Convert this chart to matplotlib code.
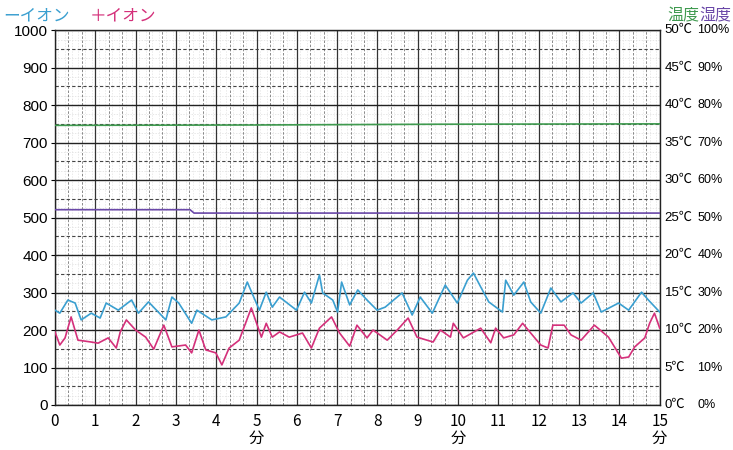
import matplotlib
matplotlib.use("Agg")
import matplotlib.pyplot as plt
import matplotlib.transforms as mtransforms

plt.rcParams['font.family'] = ['Noto Sans CJK JP', 'DejaVu Sans']

# ---- data ----
neg_t = [0.0, 0.12, 0.32, 0.50, 0.65, 0.90, 1.12, 1.27, 1.57, 1.90, 2.07, 2.32, 2.75, 2.90,
         3.07, 3.39, 3.52, 3.89, 4.24, 4.57, 4.77, 5.07, 5.24, 5.39, 5.57, 5.99, 6.19, 6.36,
         6.56, 6.64, 6.89, 7.01, 7.11, 7.31, 7.51, 7.74, 7.99, 8.19, 8.61, 8.86, 9.06, 9.36,
         9.68, 9.98, 10.23, 10.38, 10.56, 10.76, 11.10, 11.18, 11.38, 11.63, 11.80, 12.05,
         12.30, 12.55, 12.85, 13.05, 13.35, 13.55, 13.98, 14.23, 14.55, 14.72, 15.0]
neg_v = [253, 245, 280, 272, 227, 245, 232, 272, 253, 280, 245, 275, 227, 288,
         272, 218, 253, 227, 235, 272, 328, 253, 301, 261, 288, 253, 301, 272,
         347, 299, 280, 248, 328, 267, 307, 280, 253, 261, 299, 240, 288, 245,
         320, 272, 333, 352, 315, 275, 248, 333, 293, 328, 275, 245,
         312, 275, 299, 272, 299, 248, 272, 253, 301, 280, 248]

pos_t = [0.0, 0.12, 0.25, 0.40, 0.57, 0.90, 1.07, 1.32, 1.52, 1.62, 1.77, 2.00, 2.25, 2.45,
         2.70, 2.90, 3.24, 3.39, 3.57, 3.74, 3.99, 4.14, 4.32, 4.57, 4.87, 5.12, 5.24, 5.39,
         5.57, 5.81, 6.14, 6.36, 6.56, 6.86, 7.06, 7.31, 7.49, 7.74, 7.89, 8.24, 8.49, 8.76,
         8.98, 9.38, 9.56, 9.81, 9.88, 10.13, 10.56, 10.81, 10.93, 11.13, 11.38, 11.60, 11.80,
         12.05, 12.23, 12.35, 12.63, 12.80, 13.05, 13.38, 13.73, 14.05, 14.23, 14.38, 14.63,
         14.75, 14.87, 15.0]
pos_v = [195, 160, 179, 235, 173, 168, 165, 179, 152, 195, 227, 200, 181, 149,
         213, 155, 160, 139, 200, 147, 139, 107, 152, 173, 259, 181, 218, 181,
         195, 181, 192, 152, 205, 235, 192, 157, 213, 179, 200, 173, 200, 232,
         181, 168, 200, 181, 218, 179, 205, 166, 205, 179, 187, 218, 192,
         160, 152, 213, 213, 187, 173, 213, 181, 125, 128, 155, 179,
         218, 245, 205]

temp_t = [0.0, 5.0, 9.5, 15.0]
temp_c = [37.3, 37.35, 37.45, 37.5]      # deg C (right axis, 50C = 1000)

hum_t = [0.0, 3.35, 3.45, 15.0]
hum_p = [52.1, 52.1, 51.2, 51.2]          # % (right axis, 100% = 1000)

left_ticks = [0, 100, 200, 300, 400, 500, 600, 700, 800, 900, 1000]
x_ticks = list(range(16))
x_ticklabels = ['0', '1', '2', '3', '4', '5\n分', '6', '7', '8', '9', '10\n分',
                '11', '12', '13', '14', '15\n分']
temp_labels = ['0℃', '5℃', '10℃', '15℃', '20℃', '25℃', '30℃', '35℃', '40℃', '45℃', '50℃']
hum_labels = ['0%', '10%', '20%', '30%', '40%', '50%', '60%', '70%', '80%', '90%', '100%']

c_neg = '#3a9fd0'
c_pos = '#d4307a'
c_temp = '#3f9a4f'
c_hum = '#6a48a8'

num_font = ['Liberation Sans', 'Noto Sans CJK JP']

fig = plt.figure(figsize=(7.33, 4.5), dpi=100)
ax = fig.add_axes([0.075, 0.10, 0.825, 0.833])
ax.set_xlim(0, 15)
ax.set_ylim(0, 1000)

# grid
for k in range(0, 46):
    x = k / 3.0
    if k % 3 == 0:
        ax.axvline(x, color='#333333', lw=0.9, zorder=1)
    else:
        ax.axvline(x, color='#777777', lw=0.6, ls=(0, (3, 2)), zorder=1)
for k in range(0, 90):
    x = k / 6.0 + 1 / 12.0
    if x < 15:
        ax.axvline(x, color='#e2e2e2', lw=0.5, ls=(0, (2, 2)), zorder=0.5)
for y in range(0, 1001, 25):
    if y % 100 == 0:
        ax.axhline(y, color='#222222', lw=1.0, zorder=1)
    elif y % 50 == 0:
        ax.axhline(y, color='#444444', lw=0.8, ls=(0, (3, 2)), zorder=1)
    else:
        ax.axhline(y, color='#dddddd', lw=0.5, ls=(0, (2, 2)), zorder=0.5)

# series
ax.plot(temp_t, [v * 20 for v in temp_c], color=c_temp, lw=1.2, zorder=3)
ax.plot(hum_t, [v * 10 for v in hum_p], color=c_hum, lw=1.2, zorder=3)
ax.plot(neg_t, neg_v, color=c_neg, lw=1.2, zorder=4)
ax.plot(pos_t, pos_v, color=c_pos, lw=1.2, zorder=4)

for s in ax.spines.values():
    s.set_color('#222222')
    s.set_linewidth(1.0)

ax.set_yticks(left_ticks)
ax.set_yticklabels([str(v) for v in left_ticks], fontsize=11, family=num_font)
ax.tick_params(axis='y', length=3, pad=2)
ax.set_xticks(x_ticks)
ax.set_xticklabels(x_ticklabels, fontsize=11, linespacing=0.95)
ax.tick_params(axis='x', length=0, pad=6)

# right-side labels
trans = mtransforms.blended_transform_factory(ax.transAxes, ax.transData)
for i, y in enumerate(left_ticks):
    ax.text(1.008, y, temp_labels[i], transform=trans, ha='left', va='center',
            fontsize=9.5, family=num_font, clip_on=False)
    ax.text(1.062, y, hum_labels[i], transform=trans, ha='left', va='center',
            fontsize=9, family=num_font, clip_on=False)

# headers
fig.text(0.005, 0.965, 'ーイオン', color=c_neg, fontsize=12, ha='left', va='center')
fig.text(0.123, 0.965, '＋イオン', color=c_pos, fontsize=12, ha='left', va='center')
fig.text(0.911, 0.965, '温度', color=c_temp, fontsize=11.5, ha='left', va='center')
fig.text(0.954, 0.965, '湿度', color=c_hum, fontsize=11.5, ha='left', va='center')

fig.savefig('out.png', dpi=100)
